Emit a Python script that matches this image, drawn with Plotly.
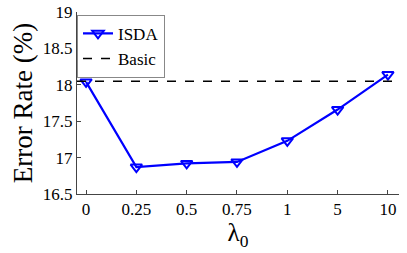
import plotly.graph_objects as go

categories = ["0", "0.25", "0.5", "0.75", "1", "5", "10"]
isda = [18.04, 16.87, 16.92, 16.94, 17.23, 17.66, 18.14]
basic = 18.05
yticks = [16.5, 17, 17.5, 18, 18.5, 19]

FONT = "Liberation Serif"
XR = [-0.18, 6.22]
fig = go.Figure()
fig.add_trace(go.Scatter(x=list(range(len(categories))), y=isda, mode="lines+markers",
                         name="ISDA", line=dict(color="#0000ff", width=2.2),
                         marker=dict(symbol="triangle-down-open", size=10, color="#0000ff",
                                     line=dict(width=2))))
fig.add_trace(go.Scatter(x=XR, y=[basic, basic], mode="lines", name="Basic",
                         line=dict(color="black", width=1.5, dash="dash")))
fig.update_layout(
    width=407, height=253, margin=dict(l=77, r=8, t=12, b=59),
    plot_bgcolor="white", paper_bgcolor="white",
    font=dict(family=FONT, size=17, color="black"),
    legend=dict(x=0.0, y=0.985, xanchor="left", yanchor="top", bgcolor="white",
                bordercolor="#888", borderwidth=1, font=dict(size=17, family=FONT),
                tracegroupgap=0, itemwidth=30),
    showlegend=True,
)
fig.update_xaxes(range=XR, tickmode="array", tickvals=list(range(len(categories))),
                 ticktext=categories, ticks="inside", ticklen=4, tickcolor="#444",
                 showline=True, linecolor="#444", linewidth=1, showgrid=False, zeroline=False,
                 automargin=False, ticklabeloverflow="allow",
                 tickfont=dict(family=FONT, size=17),
                 title=dict(text="λ<sub>0</sub>", font=dict(size=25, family=FONT), standoff=0))
fig.update_yaxes(range=[16.5, 19], tickmode="array", tickvals=yticks,
                 ticktext=[("%g" % v) for v in yticks], ticks="inside", ticklen=4, tickcolor="#444",
                 showline=True, linecolor="#444", linewidth=1, showgrid=False, zeroline=False,
                 automargin=False, ticklabeloverflow="allow",
                 tickfont=dict(family=FONT, size=17),
                 title=dict(text="Error Rate (%)", font=dict(size=27, family=FONT), standoff=2))
# remove the page's default 8px body margin so the figure fills the window
fig.write_html("out.html", config={"displayModeBar": False},
               post_script="document.body.style.margin='0px';")
